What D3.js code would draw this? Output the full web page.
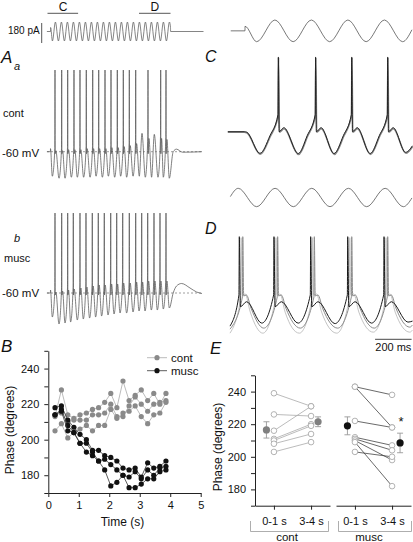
<!DOCTYPE html>
<html><head><meta charset="utf-8">
<script src="https://cdn.jsdelivr.net/npm/d3@7/dist/d3.min.js"></script>
<style>
body{margin:0;background:#fff}
svg{display:block}
text{font-family:"Liberation Sans",Arial,Helvetica,sans-serif;fill:#111}
</style>
</head><body>
<svg id="fig" width="413" height="542"></svg>
<script>
// ================= DATA =================
// Panel B: phase of spikes vs time (s)
const phaseTimes = [0.22,0.43,0.64,0.84,1.04,1.25,1.45,1.65,1.85,2.05,2.25,2.45,2.65,2.85,3.05,3.26,3.46,3.66,3.86];
const contPhaseA = [213,228,214,212,214,215,217,218,221,226,218,233,222,225,228,222,226,220,226];
const contPhaseB = [214,215,210,211,211,211,214,214,215,220,213,213,219,224,220,216,220,221,222];
const contPhaseC = [205,209,201,204,206,208,205,208,208,217,212,215,216,219,213,209,214,215,221];
const muscPhaseA = [218,219,211,207,203,200,194,194,191,190,188,184,183,184,179,187,184,185,188];
const muscPhaseB = [214,217,208,204,198,198,193,188,189,186,183,180,179,182,178,183,180,184,185];
const muscPhaseC = [214,216,205,204,198,193,191,188,183,174,176,180,173,173,175,178,178,182,183];
const timeTicks = [0,1,2,3,4,5];
const phaseTicks = [170,180,190,200,210,220,230,240,250];
const phaseLabels = [180,200,220,240];

// Panel E: paired phases (degrees), 0-1 s vs 3-4 s
const eGroups = ["cont","musc"];
const ePeriods = ["0-1 s","3-4 s"];
const contEarly = [239,226,216,211,210,208,203];
const contLate  = [231,225,231,220,219,214,209];
const muscEarly = [243,243,222,212,211,210,209,203];
const muscLate  = [238,218,218,207,204,198,182,200];
const contMean = [216.5,221.5], contErr = [5,3];
const muscMean = [219,208.5],  muscErr = [5.5,6];

// Panel A stimulus (s, normalised current) — extrema of the 5 Hz sine
const stimA_troughT = [0.064,0.264,0.464,0.664,0.864,1.064,1.264,1.464,1.664,1.864,2.064,2.264,2.464,2.664,2.864,3.064,3.264,3.464,3.664,3.864];
const stimA_peakT   = [0.164,0.364,0.564,0.764,0.964,1.164,1.364,1.564,1.764,1.964,2.164,2.364,2.564,2.764,2.964,3.164,3.364,3.564,3.764,3.964];
const stimA_edges = [[-0.12,0],[0,0],[0.004,0.42],[4.0,0.42],[4.004,0],[5.1,0]];

// Panel Aa (control) — spike times (s), spike present, pre-spike peak (mV), troughs (mV)
const AaSpikeT = [0.15,0.373,0.573,0.783,0.983,1.193,1.407,1.607,1.817,2.017,2.227,2.427,2.627,2.84,3.05,3.25,3.46,3.673,3.85];
const AaSpikeOn = [1,1,1,1,1,1,1,1,1,1,1,1,1,1,0,1,0,1,1];
const AaPeakV = [-57,-57,-56,-56,-56,-55,-55,-55,-55,-54,-54,-53,-52,-50,-42,-45,-43,-45,-46];
const AaTroughV = [-84,-86,-86,-85,-85,-85,-85,-84,-85,-84,-85,-84,-85,-84,-84,-85,-85,-85,-85,-86];
const AaStart = [[-0.12,-60],[-0.004,-60],[0.0,-57]];
const AaTail = [[4.09,-60],[4.2,-57.5],[4.4,-60.5],[5.05,-60]];

// Panel Ab (muscarine)
const AbSpikeT = [0.15,0.373,0.573,0.76,0.983,1.183,1.393,1.593,1.793,2.007,2.207,2.407,2.627,2.84,3.04,3.24,3.45,3.65,3.85];
const AbSpikeOn = [1,1,1,1,1,1,1,1,1,1,1,1,1,1,1,1,1,1,1];
const AbPeakV = [-57,-56,-55,-54,-53,-52,-51,-50,-50,-49,-49,-48,-48,-47,-47,-46,-46,-46,-46];
const AbTroughV = [-84,-91,-90,-89,-87,-86,-85,-84,-83,-82,-81,-80,-80,-79,-78,-78,-77,-77,-76,-75];
const AbStart = [[-0.12,-60],[-0.004,-60],[0.0,-57]];
const AbTail = [[4.09,-60],[4.2,-53],[4.37,-50.5],[4.65,-55],[4.87,-59],[5.05,-60.5]];

// Panels C/D stimulus (ms, normalised) — sine extrema
const stimC = [[4,0],[82,0],[82.5,0.42],[146,-1],[246,1],[346,-1],[446,1],[546,-1],[646,1],[746,-1],[846,1],[946,-1],[997,0.1]];
const stimD = [[2,0.1],[45,1],[146,-1],[247,1],[347,-1],[448,1],[548,-1],[649,1],[749,-1],[850,1],[950,-1],[997,-0.05]];

// Panel C traces (ms, mV)
const CblackSpikeT = [265,469,667,864];
const CblackTroughT = [164,374,570,768,962];
const CblackTroughV = [-81.5,-81.7,-81.7,-81.7,-80.5];
const CgraySpikeT = [266,470,668,865];
const CgrayTroughT = [166,376,572,770,964];
const CgrayTroughV = [-82.5,-82.7,-82.7,-82.7,-81.5];

// Panel D traces (ms, mV)
const DblackSpikeT = [51,241,442,645,844];
const DblackTroughT = [174,373,575,775,975];
const DblackTroughV = [-83,-83,-83.5,-83,-82];
const DgraySpikeT = [70,261,462,667,864];
const DgrayTroughT = [185,385,590,790,985];
const DgrayTroughV = [-88,-88,-88,-88,-87];
const DlightSpikeT = [61,252,452,656,855];
const DlightTroughT = [180,380,585,785,985];
const DlightTroughV = [-93,-93,-93,-92,-92];

// ================= DRAWING =================
const svg = d3.select("#fig");

function txt(x,y,s,o={}){
  const t = svg.append("text").attr("x",x).attr("y",y).text(s)
    .attr("font-size",o.size||11)
    .attr("text-anchor",o.anchor||"start");
  if(o.italic) t.attr("font-style","italic");
  if(o.fill) t.style("fill",o.fill);
  if(o.rotate) t.attr("transform",`rotate(${o.rotate},${x},${y})`);
  return t;
}
function seg(x1,y1,x2,y2,stroke="#222",w=1,dash=null){
  const l = svg.append("line").attr("x1",x1).attr("y1",y1).attr("x2",x2).attr("y2",y2)
    .attr("stroke",stroke).attr("stroke-width",w);
  if(dash) l.attr("stroke-dasharray",dash);
  return l;
}
function drawPath(pts,x,y,stroke,w){
  const line = d3.line().x(d=>x(d[0])).y(d=>y(d[1])).curve(d3.curveMonotoneX);
  svg.append("path").attr("d",line(pts)).attr("fill","none")
    .attr("stroke",stroke).attr("stroke-width",w).attr("stroke-linejoin","round");
}
// assemble a membrane trace from per-cycle values
function buildTrace(c){
  let pts = c.start.slice();
  c.troughT.forEach((t,i)=>pts.push([t,c.troughV[i]]));
  c.spikeT.forEach((ts,i)=>{
    const thr = Array.isArray(c.thr)?c.thr[i]:c.thr;
    if(c.on && !c.on[i]){ pts.push([ts,thr]); return; }
    (c.pre||[]).forEach(p=>pts.push([ts+p[0],p[1]]));
    pts.push([ts-c.dt,thr]);
    pts.push([ts,c.top]);
    c.post.forEach(p=>pts.push([ts+p[0], p[2]? thr+p[1] : p[1]]));
  });
  pts = pts.concat(c.end);
  pts.sort((a,b)=>a[0]-b[0]);
  return pts;
}

// ---------- Panel A ----------
const xA = d3.scaleLinear().domain([0,4]).range([50.5,170.5]);
const yStimA = d3.scaleLinear().domain([-1,1]).range([41,22]);
const yAa = d3.scaleLinear().domain([-60,20]).range([151.7,70]);
const yAb = d3.scaleLinear().domain([-60,20]).range([293,213]);

// stimulus
let stimApts = stimA_edges.slice();
stimA_troughT.forEach(t=>stimApts.push([t,-1]));
stimA_peakT.forEach(t=>stimApts.push([t,1]));
stimApts.sort((a,b)=>a[0]-b[0]);
drawPath(stimApts,xA,yStimA,"#666",0.8);
seg(41.7,23,41.7,43,"#444",0.9);
txt(8,34,"180 pA",{size:10});
// C / D markers
seg(xA(-0.1),13.3,xA(0.92),13.3,"#444",0.9);
txt(xA(0.42),11,"C",{size:12,anchor:"middle"});
seg(xA(2.95),13.3,xA(4.0),13.3,"#444",0.9);
txt(xA(3.48),11,"D",{size:12,anchor:"middle"});

txt(1,63,"A",{size:17,italic:true});
txt(14,70,"a",{size:11,italic:true});
txt(3,117,"cont",{size:11});
txt(2,156.5,"-60 mV",{size:11.5});
seg(47,yAa(-60),203,yAa(-60),"#777",0.7,"2,2");

const Aa = buildTrace({start:AaStart,end:AaTail,spikeT:AaSpikeT,on:AaSpikeOn,thr:AaPeakV,
  troughT:AaSpikeT.map(t=>t-0.09).concat([AaSpikeT[AaSpikeT.length-1]+0.11]),troughV:AaTroughV,
  dt:0.006,top:20,post:[[0.006,-62],[0.03,-2,1]]});
drawPath(Aa,xA,yAa,"#555",0.75);

txt(14,241.5,"b",{size:11,italic:true});
txt(4,261.5,"musc",{size:11});
txt(2,296.5,"-60 mV",{size:11.5});
seg(47,yAb(-60),203,yAb(-60),"#777",0.7,"2,2");
const Ab = buildTrace({start:AbStart,end:AbTail,spikeT:AbSpikeT,on:AbSpikeOn,thr:AbPeakV,
  troughT:AbSpikeT.map(t=>t-0.09).concat([AbSpikeT[AbSpikeT.length-1]+0.11]),troughV:AbTroughV,
  dt:0.006,top:20,post:[[0.006,-62],[0.03,-2,1]]});
drawPath(Ab,xA,yAb,"#555",0.75);

// ---------- Panels C & D ----------
const xCD = d3.scaleLinear().domain([0,1000]).range([230,412.5]);
const yStimC = d3.scaleLinear().domain([-1,1]).range([41.7,20]);
const yStimD = d3.scaleLinear().domain([-1,1]).range([206.7,188.3]);
const yC = d3.scaleLinear().domain([-60,14]).range([131.7,57.3]);
const yD = d3.scaleLinear().domain([-60,3]).range([300,236.7]);

drawPath(stimC,xCD,yStimC,"#555",0.8);
drawPath(stimD,xCD,yStimD,"#555",0.8);
txt(205,62,"C",{size:16,italic:true});
txt(205,234,"D",{size:16,italic:true});

const Cgray = buildTrace({start:[[-12,-60.5],[78,-60.5],[92,-61]],end:[[1000,-75]],spikeT:CgraySpikeT,thr:-44,
  troughT:CgrayTroughT,troughV:CgrayTroughV,dt:2,top:14,pre:[[-46,-65]],post:[[5,-60.5],[30,-57]]});
const Cblack = buildTrace({start:[[-12,-60],[78,-60],[92,-60.5]],end:[[1000,-74]],spikeT:CblackSpikeT,thr:-43,
  troughT:CblackTroughT,troughV:CblackTroughV,dt:2,top:14,pre:[[-46,-64]],post:[[4,-60],[30,-56]]});
drawPath(Cgray,xCD,yC,"#8a8a8a",1.6);
drawPath(Cblack,xCD,yC,"#222",1);

const Dlight = buildTrace({start:[[0,-93]],end:[[1000,-90]],spikeT:DlightSpikeT,thr:-58,
  troughT:DlightTroughT,troughV:DlightTroughV,dt:2,top:2,post:[[6,-55],[22,-54],[50,-72]]});
const Dgray = buildTrace({start:[[0,-89]],end:[[1000,-85]],spikeT:DgraySpikeT,thr:-57,
  troughT:DgrayTroughT,troughV:DgrayTroughV,dt:2,top:3,post:[[5,-56],[20,-55],[45,-68]]});
const Dblack = buildTrace({start:[[0,-86]],end:[[1000,-81]],spikeT:DblackSpikeT,thr:-55,
  troughT:DblackTroughT,troughV:DblackTroughV,dt:2,top:3,post:[[6,-66.7],[40,-61.7]]});
drawPath(Dlight,xCD,yD,"#c4c4c4",1);
drawPath(Dgray,xCD,yD,"#8c8c8c",1);
drawPath(Dblack,xCD,yD,"#1a1a1a",1);

// scale bar 200 ms
seg(xCD(795),339.3,xCD(995),339.3,"#333",0.9);
txt(xCD(895),351,"200 ms",{size:11,anchor:"middle"});

// ---------- Panel B ----------
const xB = d3.scaleLinear().domain([0,5]).range([48.3,200.7]);
const yB = d3.scaleLinear().domain([170,250]).range([493,350.8]);
const gB = svg.append("g");
gB.append("g").attr("transform","translate(0,493)")
  .call(d3.axisBottom(xB).tickValues(timeTicks).tickFormat(d3.format("d")).tickSize(4).tickSizeOuter(0).tickPadding(4))
  .call(g=>g.selectAll("text").attr("font-size",11).style("font-family","Liberation Sans, Arial"));
gB.append("g").attr("transform","translate(48.3,0)")
  .call(d3.axisLeft(yB).tickValues(phaseTicks).tickFormat(d=>phaseLabels.includes(d)?d:"").tickSize(4).tickSizeOuter(0).tickPadding(5))
  .call(g=>g.selectAll("text").attr("font-size",11).style("font-family","Liberation Sans, Arial"));
gB.selectAll(".domain, .tick line").attr("stroke","#222");
txt(1,352,"B",{size:17,italic:true});
txt(13.5,430,"Phase (degrees)",{size:12,anchor:"middle",rotate:-90});
txt(122.5,526,"Time (s)",{size:12,anchor:"middle"});

const lineB = d3.line().x((d,i)=>xB(phaseTimes[i])).y(d=>yB(d));
function series(vals,lc,mc){
  svg.append("path").attr("d",lineB(vals)).attr("fill","none").attr("stroke",lc).attr("stroke-width",0.8);
  svg.append("g").selectAll("circle").data(vals).join("circle")
    .attr("cx",(d,i)=>xB(phaseTimes[i])).attr("cy",d=>yB(d)).attr("r",2.6).attr("fill",mc);
}
[contPhaseA,contPhaseB,contPhaseC].forEach(v=>series(v,"#aaa","#8a8a8a"));
[muscPhaseA,muscPhaseB,muscPhaseC].forEach(v=>series(v,"#333","#111"));
// legend
seg(147,357.7,167,357.7,"#aaa",0.8); svg.append("circle").attr("cx",157).attr("cy",357.7).attr("r",2.6).attr("fill","#8a8a8a");
txt(171,361.7,"cont",{size:11.5});
seg(147,370.7,167,370.7,"#333",0.8); svg.append("circle").attr("cx",157).attr("cy",370.7).attr("r",2.6).attr("fill","#111");
txt(171,374.7,"musc",{size:11.5});

// ---------- Panel E ----------
const yE = d3.scaleLinear().domain([170,250]).range([505.7,375.3]);
const xEc = d3.scalePoint().domain(ePeriods).range([255,330]).padding(0.51);
const xEm = d3.scalePoint().domain(ePeriods).range([336,411]).padding(0.51);
const gE = svg.append("g");
gE.append("g").attr("transform","translate(255,0)")
  .call(d3.axisLeft(yE).tickValues(phaseTicks).tickFormat(d=>phaseLabels.includes(d)?d:"").tickSize(4).tickSizeOuter(0).tickPadding(5))
  .call(g=>g.selectAll("text").attr("font-size",11).style("font-family","Liberation Sans, Arial"));
[xEc,xEm].forEach(sc=>{
  gE.append("g").attr("transform","translate(0,505.7)")
    .call(d3.axisBottom(sc).tickSize(4).tickSizeOuter(0).tickPadding(8))
    .call(g=>g.selectAll("text").attr("font-size",11).style("font-family","Liberation Sans, Arial"));
});
gE.selectAll(".domain, .tick line").attr("stroke","#222");
txt(210,354,"E",{size:17,italic:true});
txt(222,447,"Phase (degrees)",{size:12,anchor:"middle",rotate:-90});
// group brackets
svg.append("path").attr("d","M250.5,521V531.5H328.5V521").attr("fill","none").attr("stroke","#999").attr("stroke-width",0.8);
svg.append("path").attr("d","M338.5,521V531.5H411.5V521").attr("fill","none").attr("stroke","#999").attr("stroke-width",0.8);
txt(287,541,eGroups[0],{size:11.5,anchor:"middle"});
txt(369,541,eGroups[1],{size:11.5,anchor:"middle"});

function pairs(early,late,sc,lc){
  early.forEach((v,i)=>seg(sc(ePeriods[0]),yE(v),sc(ePeriods[1]),yE(late[i]),lc,0.8));
  early.forEach(v=>svg.append("circle").attr("cx",sc(ePeriods[0])).attr("cy",yE(v)).attr("r",2.8).attr("fill","#fff").attr("stroke","#aaa").attr("stroke-width",0.9));
  late.forEach(v=>svg.append("circle").attr("cx",sc(ePeriods[1])).attr("cy",yE(v)).attr("r",2.8).attr("fill","#fff").attr("stroke","#aaa").attr("stroke-width",0.9));
}
pairs(contEarly,contLate,xEc,"#aaa");
pairs(muscEarly,muscLate,xEm,"#444");
function meanPt(x,m,e,col){
  seg(x,yE(m+e),x,yE(m-e),"#999",0.9);
  seg(x-3,yE(m+e),x+3,yE(m+e),"#999",0.9);
  seg(x-3,yE(m-e),x+3,yE(m-e),"#999",0.9);
  svg.append("circle").attr("cx",x).attr("cy",yE(m)).attr("r",3.6).attr("fill",col);
}
meanPt(xEc(ePeriods[0])-7.5,contMean[0],contErr[0],"#808080");
meanPt(xEc(ePeriods[1])+7,contMean[1],contErr[1],"#808080");
meanPt(xEm(ePeriods[0])-7.5,muscMean[0],muscErr[0],"#111");
meanPt(xEm(ePeriods[1])+8,muscMean[1],muscErr[1],"#111");
txt(401,426,"*",{size:13,anchor:"middle"});
</script>
</body></html>
